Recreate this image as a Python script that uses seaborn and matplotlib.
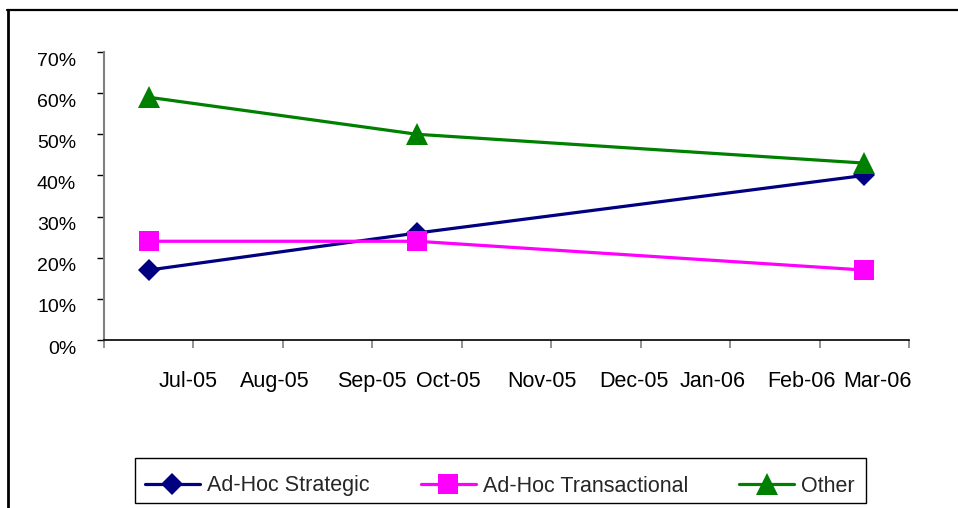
import matplotlib
matplotlib.use("Agg")
import matplotlib.pyplot as plt
from matplotlib.lines import Line2D
from matplotlib.patches import Rectangle
from matplotlib.ticker import FixedLocator, FuncFormatter
from matplotlib.transforms import ScaledTranslation
import seaborn as sns
import pandas as pd

# ---- data ----
months = ["Jul-05", "Aug-05", "Sep-05", "Oct-05", "Nov-05",
          "Dec-05", "Jan-06", "Feb-06", "Mar-06"]
obs_months = ["Jul-05", "Oct-05", "Mar-06"]
strategic = [0.17, 0.26, 0.40]
transactional = [0.24, 0.24, 0.17]
other = [0.59, 0.50, 0.43]
series_names = ["Ad-Hoc Strategic", "Ad-Hoc Transactional", "Other"]
yticks = [0.0, 0.1, 0.2, 0.3, 0.4, 0.5, 0.6, 0.7]

# ---- style ----
colors = ["#000080", "#FF00FF", "#008000"]
markers = ["D", "s", "^"]
msizes = [11, 14.5, 16]
label_shift = [0.44, 0.41, 0.49, 0.35, 0.40, 0.43, 0.30, 0.30, 0.15]

sns.set_theme(style="white")
plt.rcParams["font.family"] = ["Liberation Sans", "DejaVu Sans"]

rows = []
for name, vals in zip(series_names, [strategic, transactional, other]):
    for m, v in zip(obs_months, vals):
        rows.append({"series": name, "pos": months.index(m), "value": v})
df = pd.DataFrame(rows)

fig = plt.figure(figsize=(9.58, 5.08), dpi=100)
ax = fig.add_axes([104 / 958, 1 - 340 / 508, 805 / 958, 288 / 508])

for name, c, mk, ms in zip(series_names, colors, markers, msizes):
    sub = df[df["series"] == name]
    sns.lineplot(data=sub, x="pos", y="value", ax=ax, color=c, marker=mk,
                 markersize=ms, markeredgewidth=0, linewidth=2.3,
                 label=name, legend=False)

ax.set_xlim(-0.5, len(months) - 0.5)
ax.set_ylim(0, 0.7)
ax.set_xlabel("")
ax.set_ylabel("")

# y axis
ax.yaxis.set_major_locator(FixedLocator(yticks))
ax.yaxis.set_major_formatter(FuncFormatter(lambda v, p: f"{v * 100:.0f}%"))
ax.tick_params(axis="y", which="major", left=True, direction="out",
               length=5, width=1, color="black", pad=15, labelsize=14,
               labelcolor="black")
shift_down = ScaledTranslation(0, -7 / 100, fig.dpi_scale_trans)
for lbl in ax.get_yticklabels():
    lbl.set_transform(lbl.get_transform() + shift_down)

# x axis: boundary ticks (major, unlabeled) + label positions (minor)
ax.xaxis.set_major_locator(FixedLocator([i - 0.5 for i in range(len(months) + 1)]))
ax.xaxis.set_major_formatter(FuncFormatter(lambda v, p: ""))
ax.xaxis.set_minor_locator(FixedLocator([i + s for i, s in enumerate(label_shift)]))
ax.set_xticklabels(months, minor=True)
ax.tick_params(axis="x", which="major", bottom=True, direction="out",
               length=6, width=1.2, color="#808080")
ax.tick_params(axis="x", which="minor", bottom=True, length=0, pad=22,
               labelsize=15.5, labelcolor="black")

for side in ["top", "right"]:
    ax.spines[side].set_visible(False)
ax.spines["left"].set_color("#808080")
ax.spines["left"].set_linewidth(1.5)
ax.spines["bottom"].set_color("black")
ax.spines["bottom"].set_linewidth(1.2)
ax.grid(False)

# legend (content) + its box
handles, labels = ax.get_legend_handles_labels()
leg = fig.legend(handles, labels, loc="center", ncol=3,
                 bbox_to_anchor=(145 / 958, 1 - 486 / 508 - 0.02, 710 / 958, 0.04),
                 mode="expand", frameon=False,
                 fontsize=15.5, handlelength=2.55, handletextpad=0.33,
                 borderaxespad=0, borderpad=0.0, markerscale=1.0)
fig.add_artist(Rectangle((135 / 958, 5 / 508), 731 / 958, 45 / 508,
                         transform=fig.transFigure, fill=False,
                         edgecolor="black", linewidth=1.0))

# outer chart frame (top and left edges visible)
fig.add_artist(Line2D([7 / 958, 1.0], [1 - 10 / 508, 1 - 10 / 508],
                      transform=fig.transFigure, color="black", linewidth=1.6))
fig.add_artist(Line2D([8 / 958, 8 / 958], [0.0, 1 - 10 / 508],
                      transform=fig.transFigure, color="black", linewidth=2.0))

fig.savefig("out.png", dpi=100)
